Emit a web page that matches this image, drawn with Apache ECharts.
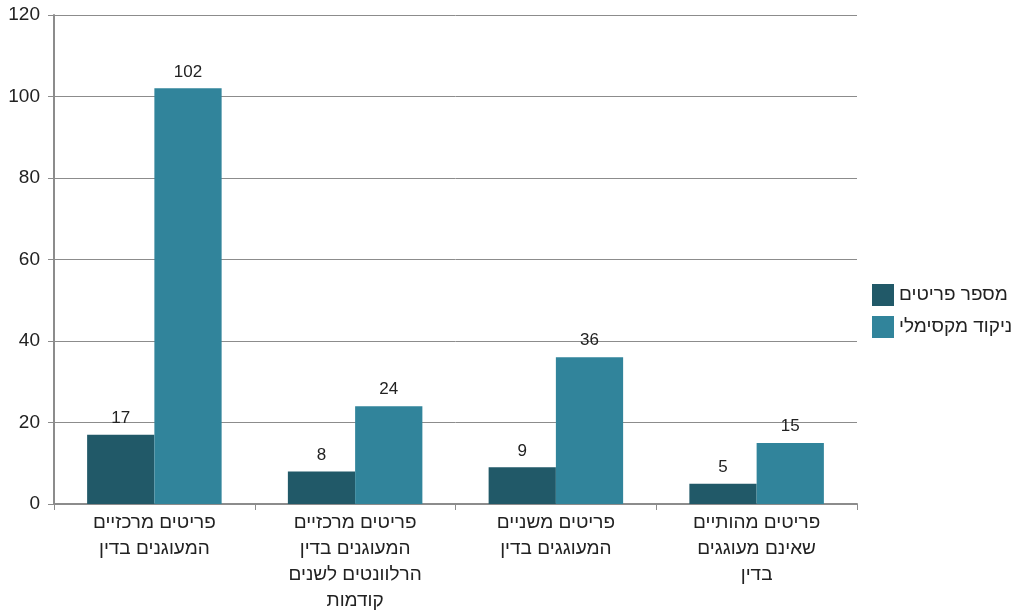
<!DOCTYPE html>
<html>
<head>
<meta charset="utf-8">
<script src="https://cdn.jsdelivr.net/npm/echarts@6/dist/echarts.min.js"></script>
<style>
  html, body { margin: 0; padding: 0; background: #fff; }
  #chart { width: 1017px; height: 610px; }
</style>
</head>
<body>
<div id="chart"></div>
<script>
const categories = [
  'פריטים מרכזיים\nהמעוגנים בדין',
  'פריטים מרכזיים\nהמעוגנים בדין\nהרלוונטים לשנים\nקודמות',
  'פריטים משניים\nהמעוגגים בדין',
  'פריטים מהותיים\nשאינם מעוגגים\nבדין'
];
const itemCount = [17, 8, 9, 5];
const maxScore = [102, 24, 36, 15];
const yTicks = { min: 0, max: 120, interval: 20 };

const font = '"Liberation Sans", Arial, sans-serif';
const axisGrey = '#8c8c8c';

const chart = echarts.init(document.getElementById('chart'));
chart.setOption({
  backgroundColor: '#fff',
  animation: false,
  textStyle: { fontFamily: font },
  grid: { left: 54, right: 160, top: 15, bottom: 106, outerBoundsMode: 'none' },
  legend: {
    orient: 'vertical',
    left: 867,
    top: 279,
    itemWidth: 22,
    itemHeight: 22,
    itemGap: 10,
    icon: 'rect',
    textStyle: { fontSize: 19, color: '#222', fontFamily: font }
  },
  xAxis: {
    type: 'category',
    data: categories,
    axisLine: { lineStyle: { color: axisGrey, width: 2 } },
    axisTick: { show: true, length: 6, lineStyle: { color: axisGrey } },
    axisLabel: { fontSize: 19, color: '#222', lineHeight: 26, margin: 6, interval: 0 }
  },
  yAxis: {
    type: 'value',
    min: yTicks.min,
    max: yTicks.max,
    interval: yTicks.interval,
    axisLine: { show: true, lineStyle: { color: axisGrey, width: 2 } },
    axisTick: { show: true, length: 6, lineStyle: { color: axisGrey } },
    axisLabel: { fontSize: 19, color: '#222', margin: 14 },
    splitLine: { lineStyle: { color: axisGrey, width: 1 } }
  },
  series: [
    {
      name: 'מספר פריטים',
      type: 'bar',
      data: itemCount,
      barGap: '0%',
      barCategoryGap: '33%',
      itemStyle: { color: '#215968' },
      label: { show: true, position: 'top', fontSize: 17, color: '#222', distance: 8 }
    },
    {
      name: 'ניקוד מקסימלי',
      type: 'bar',
      data: maxScore,
      itemStyle: { color: '#31849b' },
      label: { show: true, position: 'top', fontSize: 17, color: '#222', distance: 8 }
    }
  ]
});
</script>
</body>
</html>
